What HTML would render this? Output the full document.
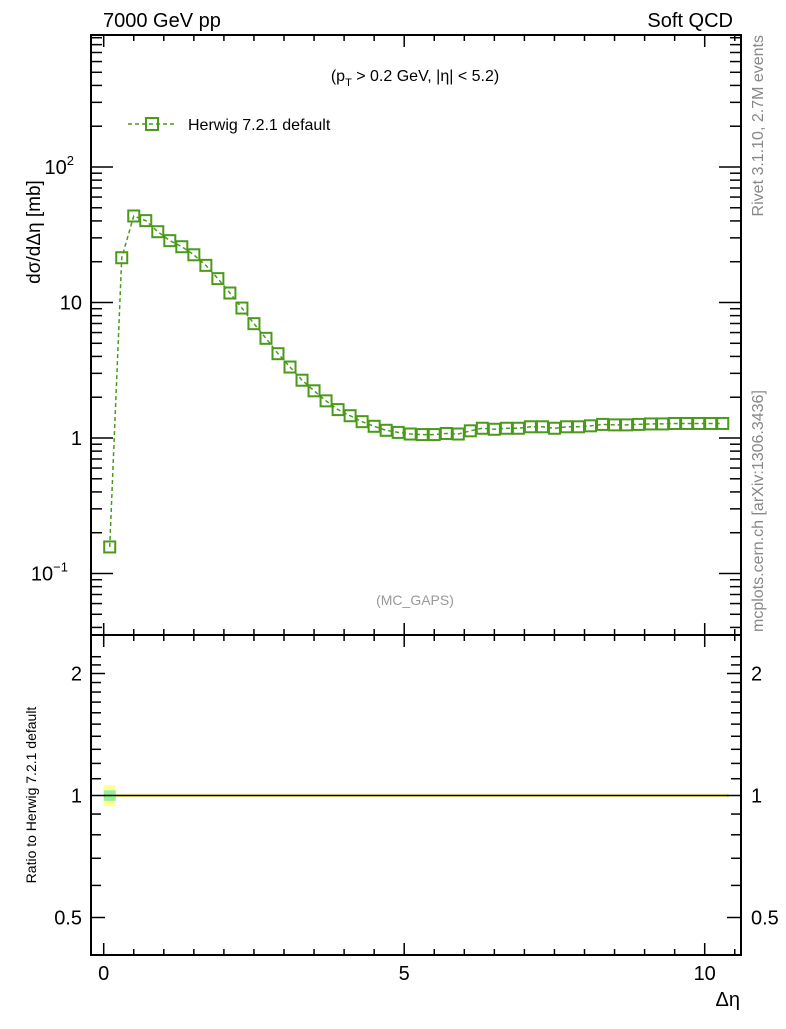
<!DOCTYPE html>
<html><head><meta charset="utf-8"><style>
body{margin:0;background:#fff;width:786px;height:1024px;overflow:hidden}
svg{font-family:"Liberation Sans",sans-serif}
</style></head><body>
<svg id="c" width="786" height="1024">
<text x="103" y="27" font-size="20">7000 GeV pp</text>
<text x="733" y="27" font-size="20" text-anchor="end">Soft QCD</text>
<text x="415" y="81" font-size="16" text-anchor="middle">(p<tspan font-size="11" dy="5">T</tspan><tspan dy="-5"> &gt; 0.2 GeV, |η| &lt; 5.2)</tspan></text>
<text x="415" y="605" font-size="14" fill="#999" text-anchor="middle">(MC_GAPS)</text>
<text transform="translate(763,35) rotate(-90)" font-size="16" fill="#888" text-anchor="end">Rivet 3.1.10,  2.7M events</text>
<text transform="translate(763,632) rotate(-90)" font-size="16" fill="#888">mcplots.cern.ch [arXiv:1306.3436]</text>
<text transform="translate(40,232) rotate(-90)" font-size="19" text-anchor="middle">dσ/dΔη [mb]</text>
<text transform="translate(36,795) rotate(-90)" font-size="14" text-anchor="middle">Ratio to Herwig 7.2.1 default</text>
<text x="740" y="1006" font-size="20" text-anchor="end">Δη</text>
<g>
<line x1="128" y1="124" x2="176" y2="124" stroke="#4a9a1a" stroke-width="1.5" stroke-dasharray="4,3"/>
<rect x="146" y="118" width="12" height="12" fill="none" stroke="#4a9a1a" stroke-width="2"/>
<text x="188" y="130" font-size="16">Herwig 7.2.1 default</text>
</g>
<g id="g"></g>
</svg>
<script>
const categories=[0.1,0.3,0.5,0.7,0.9,1.1,1.3,1.5,1.7,1.9,2.1,2.3,2.5,2.7,2.9,3.1,3.3,3.5,3.7,3.9,4.1,4.3,4.5,4.7,4.9,5.1,5.3,5.5,5.7,5.9,6.1,6.3,6.5,6.7,6.9,7.1,7.3,7.5,7.7,7.9,8.1,8.3,8.5,8.7,8.9,9.1,9.3,9.5,9.7,9.9,10.1,10.3];
const values=[0.157,21.4,43.5,40.2,33.3,28.6,25.8,22.5,18.8,15.0,11.75,9.1,6.98,5.44,4.19,3.34,2.67,2.23,1.88,1.62,1.46,1.32,1.22,1.14,1.10,1.07,1.06,1.06,1.08,1.07,1.13,1.18,1.16,1.18,1.18,1.21,1.21,1.18,1.21,1.21,1.23,1.26,1.25,1.25,1.26,1.27,1.27,1.28,1.28,1.28,1.28,1.28];
const ratios=categories.map(()=>1);
const xTicks=[0,5,10];
const yTicks=[[0.1,"10","−1"],[1,"1",""],[10,"10",""],[100,"10","2"]];
const rTicks=[[0.5,"0.5"],[1,"1"],[2,"2"]];
const L=91,R=741,T=35,B=635,RT=635,RB=955;
const X=v=>103.7+v*60.1;
const Y=v=>438-Math.log10(v)*135.5;
const RY=v=>795.5-Math.log2(v)*122;
const g=document.getElementById('g');
const NS="http://www.w3.org/2000/svg";
function mk(t,a,p){const e=document.createElementNS(NS,t);for(const k in a)e.setAttribute(k,a[k]);(p||g).appendChild(e);return e;}
let d="";categories.forEach((c,i)=>{d+=(i?"L":"M")+X(c-0.1)+","+RY(1.012)+"L"+X(c+0.1)+","+RY(1.012);});
for(let i=categories.length-1;i>=0;i--){d+="L"+X(categories[i]+0.1)+","+RY(0.988)+"L"+X(categories[i]-0.1)+","+RY(0.988);}
const band=mk('path',{d:d+"Z",fill:"#ffff99"});


const fb=mk('rect',{x:X(0),y:RY(1.06),width:X(0.2)-X(0),height:RY(0.94)-RY(1.06),fill:"#ffff99"});


const gb=mk('rect',{x:X(0),y:RY(1.03),width:X(0.2)-X(0),height:RY(0.97)-RY(1.03),fill:"#99ee99"});


const rl=mk('path',{d:categories.map((c,i)=>(i?"L":"M")+X(c-0.1)+","+RY(ratios[i])+"L"+X(c+0.1)+","+RY(ratios[i])).join(""),stroke:"#000",fill:"none","stroke-width":1.5});


const f1=mk('rect',{x:L,y:T,width:R-L,height:B-T,fill:"none",stroke:"#000","stroke-width":2});


const f2=mk('rect',{x:L,y:RT,width:R-L,height:RB-RT,fill:"none",stroke:"#000","stroke-width":2});


for(let v=0;v<=10.5;v+=0.5){const big=Math.abs(v-Math.round(v))<1e-6&&v%5===0;const len=big?12:6;
[[T,1],[B,-1],[RT,1],[RB,-1]].forEach(([y,s])=>{mk('line',{x1:X(v),x2:X(v),y1:y,y2:y+s*len,stroke:"#000","stroke-width":1.5});});}
xTicks.forEach(v=>{const t=mk('text',{x:X(v),y:980,"font-size":20,"text-anchor":"middle"});t.textContent=v;

});
for(let e=-2;e<=2;e++)for(let m=1;m<10;m++){const v=m*Math.pow(10,e);const y=Y(v);if(y<T||y>B)continue;const len=m===1?22:11;
mk('line',{x1:L,x2:L+len,y1:y,y2:y,stroke:"#000","stroke-width":1.5});mk('line',{x1:R,x2:R-len,y1:y,y2:y,stroke:"#000","stroke-width":1.5});}
yTicks.forEach(([v,b,s])=>{const t=mk('text',{x:s?72:82,y:Y(v)+7,"font-size":20,"text-anchor":"end"});t.textContent=b;
if(s){const sp=mk('tspan',{"font-size":13,dy:-9},t);sp.textContent=s;}
if(s){t.setAttribute('x',82-(s.length>1?14:8));}

});
[0.5,0.6,0.7,0.8,0.9,1,1.1,1.2,1.3,1.4,1.5,1.6,1.7,1.8,1.9,2,2.1,2.2].forEach(v=>{const y=RY(v);if(y<RT||y>RB)return;const big=[0.5,1,2].includes(v);const len=big?14:10;
mk('line',{x1:L,x2:L+len,y1:y,y2:y,stroke:"#000","stroke-width":1.5});mk('line',{x1:R,x2:R-len,y1:y,y2:y,stroke:"#000","stroke-width":1.5});});
rTicks.forEach(([v,s])=>{[[82,"end"],[751,"start"]].forEach(([x,a])=>{const t=mk('text',{x:x,y:RY(v)+7,"font-size":20,"text-anchor":a});t.textContent=s;

});});
const ln=mk('path',{d:categories.map((c,i)=>(i?"L":"M")+X(c)+","+Y(values[i])).join(""),stroke:"#4a9a1a",fill:"none","stroke-width":1.5,"stroke-dasharray":"4,3"});


categories.forEach((c,i)=>{const r=mk('rect',{x:X(c)-5.5,y:Y(values[i])-5.5,width:11,height:11,fill:"none",stroke:"#4a9a1a","stroke-width":2});

});
</script>
</body></html>
